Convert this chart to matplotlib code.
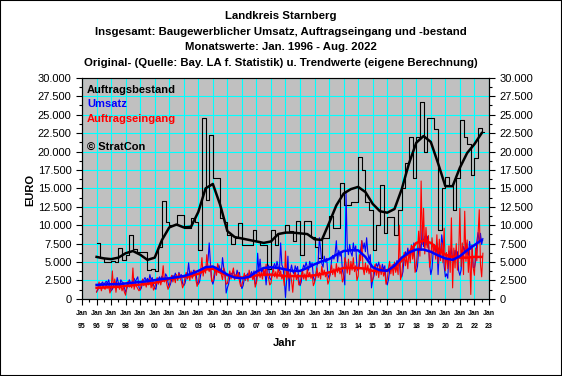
import matplotlib
matplotlib.use("Agg")
import matplotlib.pyplot as plt
from matplotlib.ticker import FixedLocator, MultipleLocator, FuncFormatter
from matplotlib.patches import Rectangle
import numpy as np

# Monthly values Jan 1996 - Aug 2022 (EURO)
start_year = 1996

umsatz = [
    1000, 1200, 1700, 2000, 2100, 2300, 1900, 2200, 2400, 2100, 2600, 1800,   # 1996
    1100, 1300, 2000, 2400, 1800, 2900, 2200, 1700, 2600, 2300, 2200, 1500,   # 1997
    900, 1400, 2100, 2600, 2200, 2000, 2500, 2800, 2300, 2700, 3000, 1600,    # 1998
    1200, 1500, 2300, 2600, 2900, 2400, 2800, 2300, 3300, 2600, 2900, 1900,   # 1999
    1500, 1300, 2400, 2700, 3000, 2600, 3100, 2800, 2400, 3400, 3100, 2200,   # 2000
    1600, 2000, 2600, 3200, 2900, 3500, 3000, 2700, 3600, 3100, 3300, 2100,   # 2001
    1800, 2100, 2900, 3300, 4900, 3200, 3600, 2900, 3900, 3400, 3700, 2300,   # 2002
    2000, 2300, 3300, 3900, 3600, 4300, 3800, 4500, 5200, 7600, 4800, 2600,   # 2003
    2000, 2600, 3800, 4300, 3900, 4600, 4000, 3600, 5600, 4200, 3700, 800,    # 2004
    1500, 2000, 3000, 3500, 3300, 3800, 3200, 2900, 3900, 3300, 3600, 2200,   # 2005
    1400, 1800, 2700, 3200, 3000, 3500, 2900, 3300, 3700, 3100, 3800, 2000,   # 2006
    2200, 6200, 3800, 5400, 3600, 4100, 3300, 3700, 1900, 4300, 4600, 2800,   # 2007
    2600, 3200, 4400, 4800, 4100, 5100, 4300, 3800, 7600, 4600, 4200, 2700,   # 2008
    200, 2800, 5800, 1100, 3800, 4600, 3700, 3400, 4500, 3900, 4400, 2600,    # 2009
    1800, 2300, 3900, 4600, 4200, 5000, 4300, 3900, 5100, 4500, 4900, 3000,   # 2010
    2400, 2900, 4500, 5100, 8300, 6800, 4800, 4300, 5800, 5000, 5500, 3300,   # 2011
    2800, 3400, 5200, 5900, 5400, 6200, 7900, 5000, 6600, 5800, 6300, 3900,   # 2012
    3200, 1900, 14400, 7000, 6000, 7400, 6300, 5800, 7600, 6500, 7200, 4300,  # 2013
    3800, 4500, 6600, 7900, 6800, 7600, 6400, 8300, 6200, 5300, 6000, 1500,   # 2014
    2600, 3100, 4200, 4800, 4300, 5000, 4100, 3600, 4700, 4000, 4500, 2500,   # 2015
    1900, 2600, 3800, 4300, 4000, 4700, 4200, 3900, 5200, 4600, 5400, 3000,   # 2016
    3000, 3700, 5600, 6400, 5800, 6900, 6000, 5600, 7300, 6300, 7600, 4200,   # 2017
    3700, 4400, 6800, 7400, 6600, 10000, 7100, 8500, 7300, 8500, 7800, 4800,  # 2018
    3300, 4100, 6500, 7300, 6200, 7600, 3300, 6600, 5800, 8700, 7300, 4500,   # 2019
    3000, 3400, 2800, 6500, 5400, 6900, 5400, 5000, 6600, 5700, 6400, 3800,   # 2020
    3200, 3900, 6300, 7100, 6400, 7600, 6500, 5900, 7800, 6700, 7300, 4300,   # 2021
    4200, 5100, 7800, 9000, 7600, 8900, 7400, 8200,                           # 2022
]

auftragseingang = [
    900, 1400, 2300, 1700, 1100, 2000, 1600, 1300, 2100, 1500, 1800, 800,     # 1996
    1200, 3800, 1500, 2700, 900, 2200, 1700, 1300, 2000, 1100, 1600, 900,     # 1997
    500, 1800, 2400, 1600, 1900, 1500, 4200, 1300, 2100, 1700, 1400, 1100,    # 1998
    1300, 2000, 2700, 1800, 2300, 1600, 2500, 1900, 2800, 1500, 2200, 1200,   # 1999
    1500, 2200, 2900, 2000, 2600, 1900, 2700, 4500, 2300, 2900, 2000, 1300,   # 2000
    1700, 2600, 3200, 2300, 3000, 2200, 3300, 2500, 3500, 2800, 2400, 1500,   # 2001
    1900, 2900, 3600, 2700, 3300, 2500, 3800, 2800, 3200, 3900, 2600, 1700,   # 2002
    2200, 3400, 3900, 5600, 3100, 4200, 3500, 6000, 4300, 3700, 4600, 2400,   # 2003
    2400, 3300, 4300, 3200, 4800, 3600, 4100, 3300, 2600, 4200, 3100, 2000,   # 2004
    2100, 3000, 3800, 2700, 3500, 4200, 2600, 3300, 2800, 3600, 2400, 1700,   # 2005
    1800, 2700, 3500, 2500, 3300, 2400, 3900, 2900, 3400, 2600, 3100, 1600,   # 2006
    2200, 3300, 4000, 2900, 3600, 2700, 4200, 3100, 4700, 3400, 2800, 1900,   # 2007
    2100, 3500, 4100, 3000, 3700, 2800, 4300, 3200, 3800, 2700, 3300, 1800,   # 2008
    6500, 2600, 3900, 2800, 3500, 2500, 900, 3100, 3800, 2600, 3300, 1900,    # 2009
    2000, 3100, 4000, 2700, 3400, 2500, 4100, 3000, 3600, 2800, 3300, 1800,   # 2010
    2200, 3300, 4200, 2900, 3600, 2700, 4400, 3200, 3900, 3000, 3500, 2000,   # 2011
    2500, 3700, 4600, 3300, 4100, 3000, 4800, 3600, 4300, 3400, 4000, 2300,   # 2012
    2800, 5600, 4900, 3500, 5400, 3300, 5100, 3900, 5600, 3700, 4500, 2500,   # 2013
    3100, 6000, 5200, 7900, 4200, 3300, 4900, 3600, 4600, 3400, 4200, 2300,   # 2014
    2500, 4000, 4700, 3200, 4300, 2900, 4600, 3300, 4200, 3100, 3800, 2000,   # 2015
    2700, 4100, 5100, 3400, 4600, 3200, 5000, 3600, 4500, 3300, 10000, 2600,  # 2016
    3300, 5200, 6300, 4500, 5800, 4100, 6600, 4900, 7300, 5400, 6900, 3600,   # 2017
    4500, 6600, 9200, 5800, 16000, 7400, 12300, 6100, 9700, 6900, 8600, 4300, # 2018
    5200, 8300, 6200, 7400, 5400, 8700, 4800, 8100, 5200, 7600, 4900, 9600,   # 2019
    3800, 6300, 4100, 7200, 3600, 11000, 1500, 6900, 4200, 7500, 3900, 6000,  # 2020
    12300, 4400, 7600, 3300, 11900, 5100, 8000, 3600, 6700, 600, 7300, 4200,  # 2021
    3200, 6900, 5200, 8600, 12100, 4700, 3000, 6200,                          # 2022
]

# Quarterly order backlog Q1 1996 - Q3 2022
auftragsbestand_q = [
    7600, 5600, 5000, 5000,      # 1996
    5200, 5000, 6900, 5300,      # 1997
    6000, 8700, 6800, 6400,      # 1998
    6400, 6300, 3900, 4100,      # 1999
    3800, 7000, 13300, 10500,    # 2000
    10000, 10000, 11400, 11400,  # 2001
    9600, 9600, 11000, 10400,    # 2002
    6600, 24600, 13400, 22300,   # 2003
    16400, 16400, 11000, 10500,  # 2004
    8700, 7500, 8200, 10300,     # 2005
    7300, 7300, 7300, 9400,      # 2006
    7900, 7300, 7300, 4000,      # 2007
    9400, 7300, 9000, 9000,      # 2008
    10000, 9200, 7900, 10600,    # 2009
    6000, 10600, 10600, 8400,    # 2010
    7000, 5600, 8300, 8300,      # 2011
    11300, 9600, 9600, 15700,    # 2012
    12800, 12800, 13100, 13100,  # 2013
    19300, 17500, 13200, 12100,  # 2014
    6600, 10000, 15500, 9000,    # 2015
    11100, 11100, 8700, 12000,   # 2016
    15000, 18500, 22000, 16400,  # 2017
    22000, 26700, 20000, 24600,  # 2018
    24600, 23000, 9400, 15000,   # 2019
    16500, 15300, 12000, 16400,  # 2020
    24300, 22000, 21000, 16800,  # 2021
    19100, 23200, 22600,         # 2022
]

# Trend values, half-yearly (Jan / Jul) 1996 - 2022
trend_bestand = [
    5700, 5500, 5400, 5600, 6200, 6500, 6000, 5300, 5600, 8000,
    9700, 10100, 9700, 9800, 11800, 15000, 15600, 12800, 9200, 8400,
    8200, 8000, 7800, 7600, 7800, 8800, 9000, 9000, 8900, 8800,
    8100, 8000, 10300, 12700, 14300, 14900, 15200, 14500, 12900, 11900,
    11700, 12200, 14900, 18400, 21200, 22100, 21300, 18400, 15300, 15300,
    17800, 19800, 21000, 22500,
]
trend_umsatz = [
    1900, 1950, 2000, 2000, 2100, 2200, 2300, 2400, 2550, 2700,
    2800, 2950, 3100, 3400, 3800, 4300, 4400, 3900, 3300, 2900,
    2800, 3000, 3700, 4200, 4300, 4200, 4000, 3800, 3800, 4200,
    4700, 5100, 5400, 6000, 6500, 6600, 6600, 5700, 4300, 3900,
    3800, 4500, 5600, 6300, 6700, 6700, 6400, 5900, 5500, 5300,
    5800, 6600, 7300, 8000,
]
trend_eingang = [
    1500, 1550, 1600, 1650, 1750, 1850, 1950, 2050, 2200, 2450,
    2700, 2900, 3000, 3150, 3400, 4000, 4100, 3600, 3200, 3000,
    2900, 3000, 3200, 3300, 3300, 3200, 3100, 3100, 3100, 3100,
    3200, 3400, 3600, 3900, 4200, 4200, 4200, 4100, 3800, 3800,
    3900, 4300, 5200, 6300, 7600, 7900, 7600, 6800, 6000, 5700,
    5600, 5600, 5700, 5700,
]

titles = [
    "Landkreis Starnberg",
    "Insgesamt: Baugewerblicher Umsatz, Auftragseingang und -bestand",
    "Monatswerte: Jan. 1996 - Aug. 2022",
    "Original- (Quelle: Bay. LA f. Statistik) u. Trendwerte (eigene Berechnung)",
]
tick_years = list(range(1995, 2024))

plt.rcParams['font.family'] = ['Liberation Sans', 'DejaVu Sans']

x_month = start_year + np.arange(len(umsatz)) / 12.0
x_quarter = start_year + np.arange(len(auftragsbestand_q)) / 4.0
x_half = start_year + np.arange(len(trend_bestand)) / 2.0

fig = plt.figure(figsize=(5.62, 3.76), dpi=100)
fig.patches.append(Rectangle((0, 0), 1, 1, transform=fig.transFigure,
                             fill=False, edgecolor='black', linewidth=1.5))

ax = fig.add_axes([0.146, 0.205, 0.724, 0.588])
ax.set_facecolor('#c0c0c0')

# thin original lines
ax.plot(np.append(x_quarter, x_quarter[-1] + 0.17),
        auftragsbestand_q + [auftragsbestand_q[-1]],
        color='black', lw=0.8, drawstyle='steps-post')
ax.plot(x_month, umsatz, color='#0000ff', lw=0.8)
ax.plot(x_month, auftragseingang, color='#ff0000', lw=0.8)
# trend lines
ax.plot(x_half, trend_bestand, color='black', lw=1.8)
ax.plot(x_half, trend_eingang, color='#ff0000', lw=1.8)
ax.plot(x_half, trend_umsatz, color='#0000ff', lw=1.8)

ax.set_xlim(1995, 2023)
ax.set_ylim(0, 30000)

fmt = FuncFormatter(lambda v, p: f"{v:,.0f}".replace(",", "."))
ax.yaxis.set_major_locator(MultipleLocator(2500))
ax.yaxis.set_minor_locator(MultipleLocator(1250))
ax.yaxis.set_major_formatter(fmt)
ax.xaxis.set_major_locator(FixedLocator(tick_years))
ax.xaxis.set_minor_locator(MultipleLocator(0.5))
ax.set_xticklabels([f"Jan\n{y % 100:02d}" for y in tick_years],
                   fontsize=5, fontweight='bold', linespacing=2.2)
ax.tick_params(axis='y', labelsize=8, length=4, width=0.8, direction='out')
ax.tick_params(axis='y', which='minor', length=2, width=0.8)
ax.tick_params(axis='x', length=4, width=0.8, pad=4)
ax.tick_params(axis='x', which='minor', length=2, width=0.8)

ax.grid(True, which='major', color='#00ffff', lw=0.8)
ax.set_axisbelow(True)
for s in ['left', 'bottom', 'right']:
    ax.spines[s].set_color('black')
ax.spines['top'].set_color('#808080')

ax2 = ax.twinx()
ax2.set_ylim(0, 30000)
ax2.yaxis.set_major_locator(MultipleLocator(2500))
ax2.yaxis.set_minor_locator(MultipleLocator(1250))
ax2.yaxis.set_major_formatter(fmt)
ax2.tick_params(axis='y', labelsize=8, length=4, width=0.8)
ax2.tick_params(axis='y', which='minor', length=2, width=0.8)

# legend-like labels
ax.text(0.155, 0.761, "Auftragsbestand", transform=fig.transFigure, color='black',
        fontsize=8, fontweight='bold', va='center')
ax.text(0.155, 0.723, "Umsatz", transform=fig.transFigure, color='#0000ff',
        fontsize=8, fontweight='bold', va='center')
ax.text(0.155, 0.684, "Auftragseingang", transform=fig.transFigure, color='#ff0000',
        fontsize=8, fontweight='bold', va='center')
ax.text(0.155, 0.609, "\u00a9 StratCon", transform=fig.transFigure, color='black',
        fontsize=8, fontweight='bold', va='center')

for t, yy in zip(titles, [16, 32, 47, 63]):
    fig.text(0.5, 1 - yy / 376, t, ha='center', va='center', fontsize=8.2, fontweight='bold')

fig.text(0.053, 0.495, "EURO", rotation=90, ha='center', va='center',
         fontsize=8, fontweight='bold')
fig.text(0.507, 0.088, "Jahr", ha='center', va='center', fontsize=8, fontweight='bold')

fig.savefig("out.png", dpi=100)
